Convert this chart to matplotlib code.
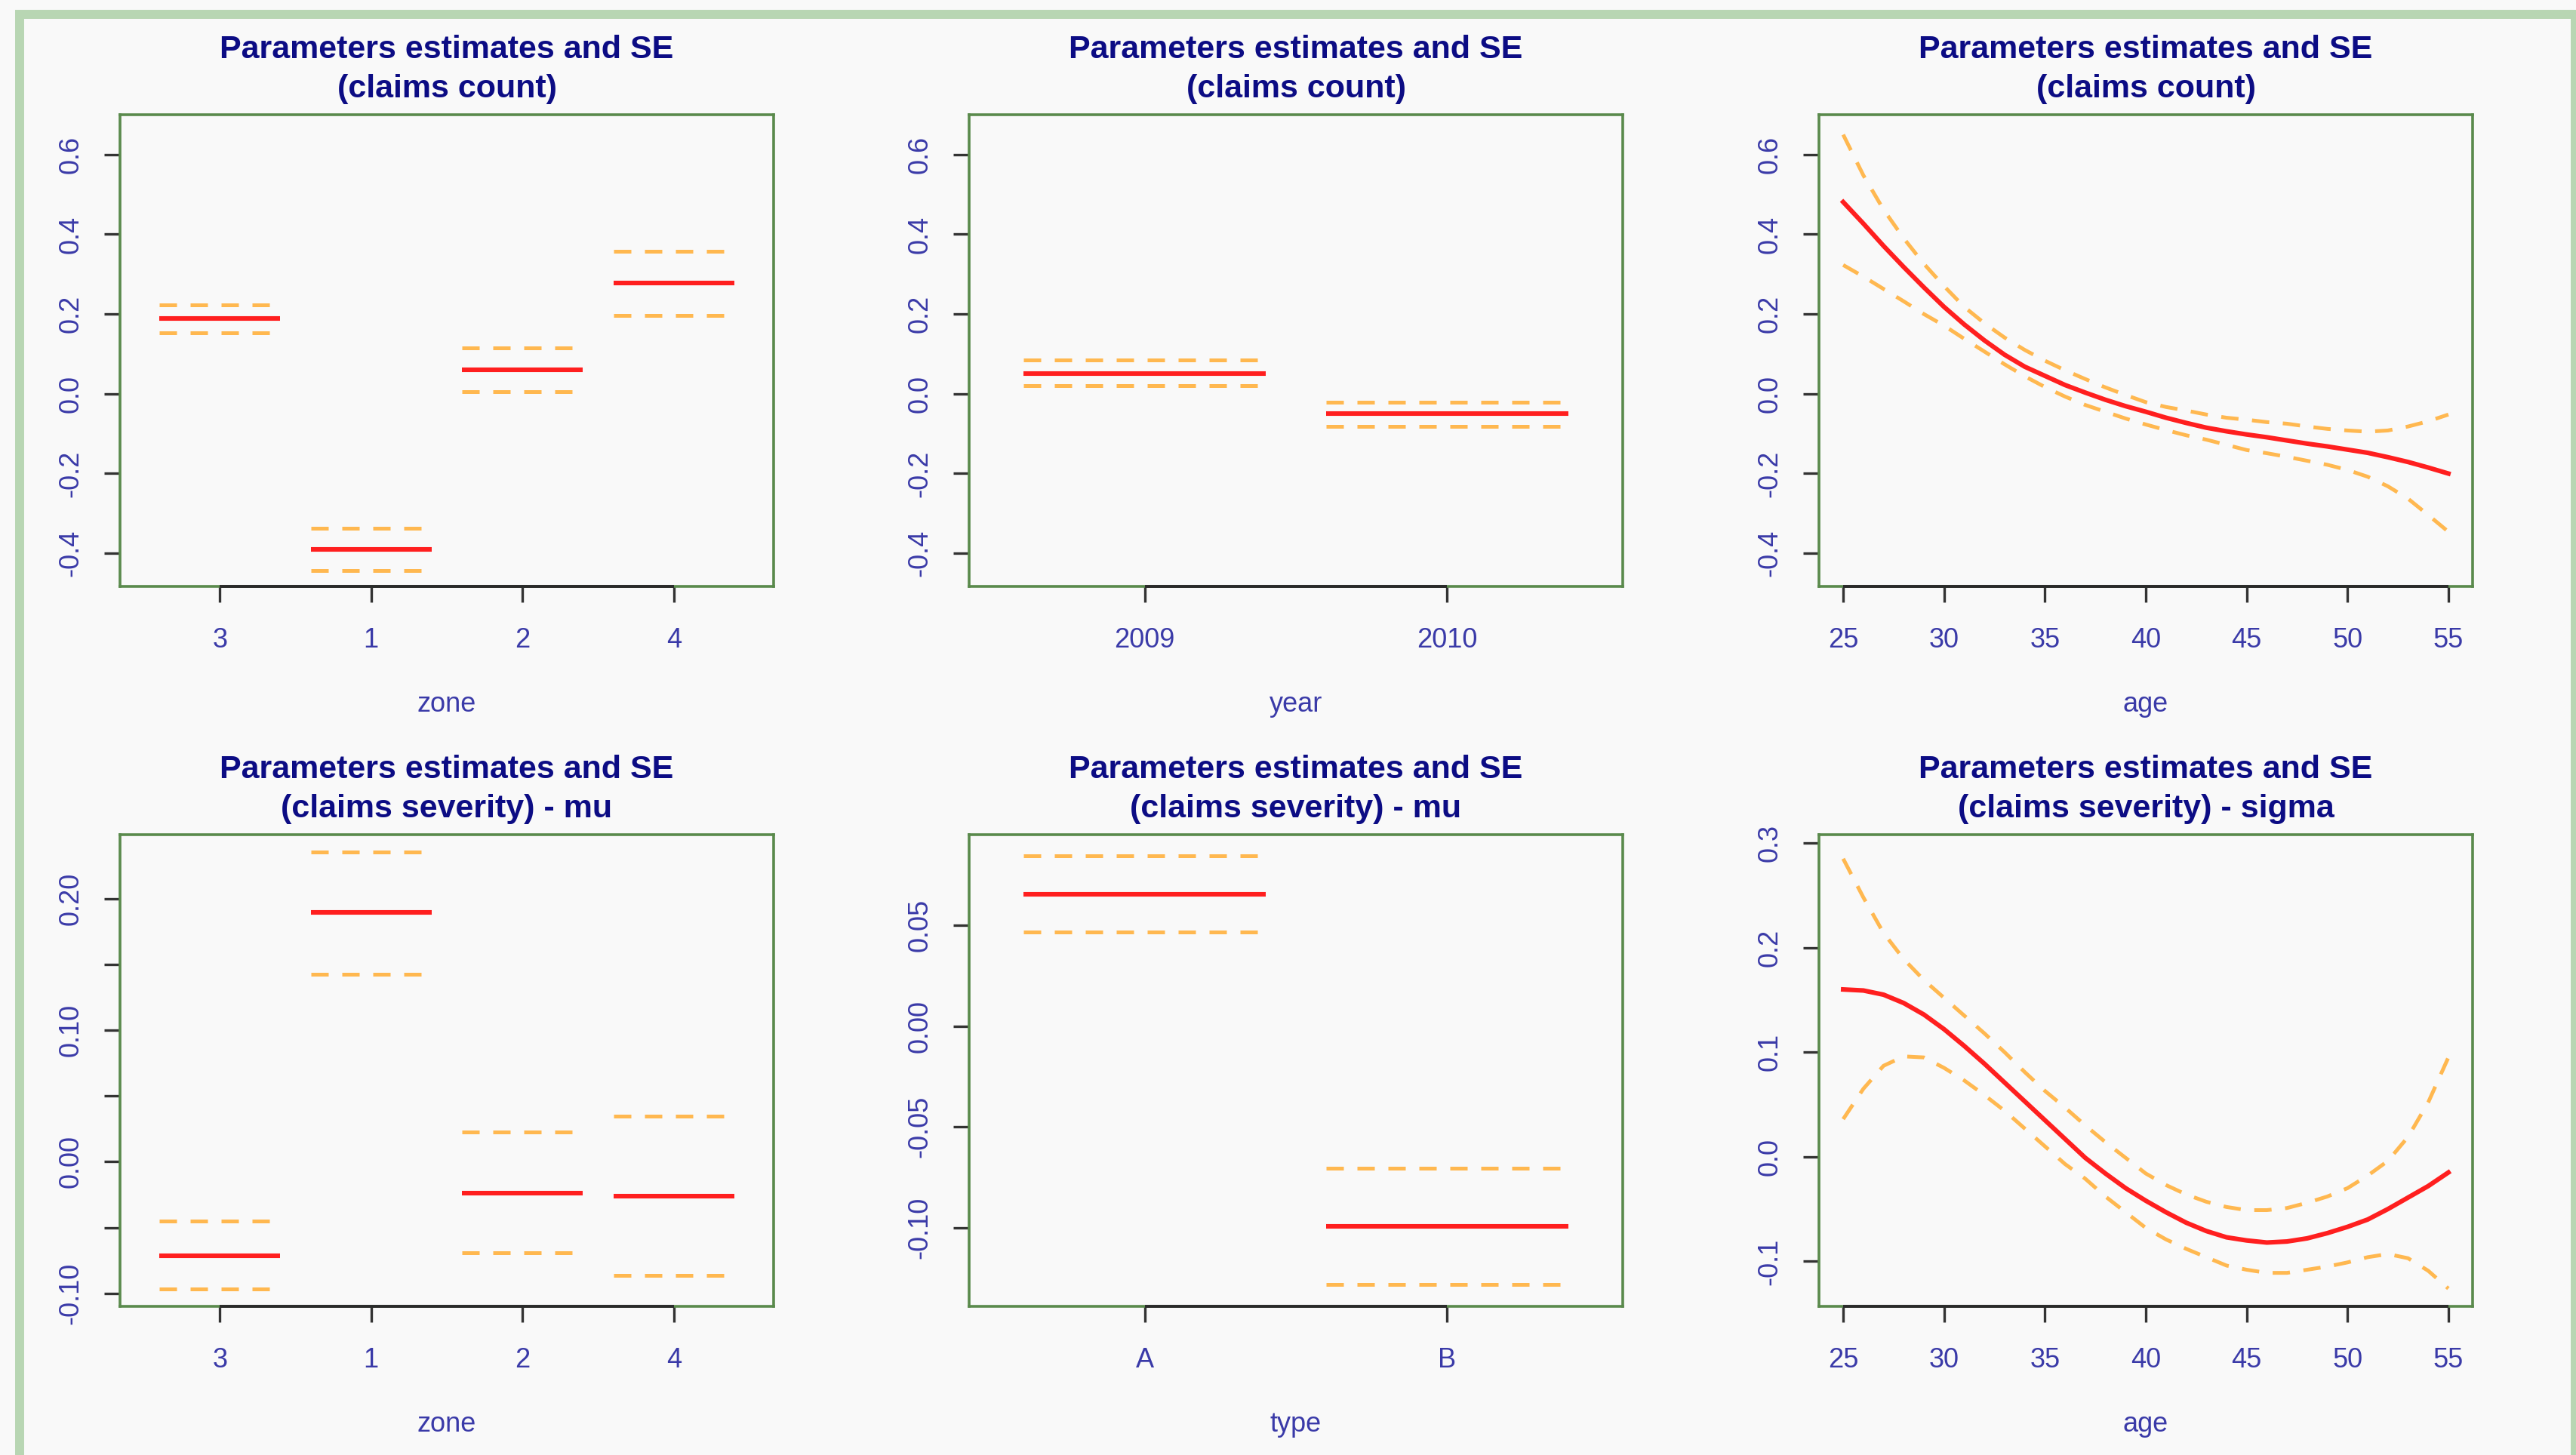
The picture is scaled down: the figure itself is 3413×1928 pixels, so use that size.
import matplotlib
matplotlib.use("Agg")
import matplotlib.pyplot as plt
from matplotlib.patches import Rectangle

# ---------------- data ----------------
zone_cats = ["3", "1", "2", "4"]
zone_count_est = [0.188, -0.390, 0.060, 0.277]
zone_count_up = [0.223, -0.338, 0.116, 0.358]
zone_count_lo = [0.153, -0.443, 0.005, 0.196]

year_cats = ["2009", "2010"]
year_count_est = [0.050, -0.050]
year_count_up = [0.084, -0.021]
year_count_lo = [0.020, -0.081]

ages = [25, 26, 27, 28, 29, 30, 31, 32, 33, 34, 35, 36, 37, 38, 39, 40,
        41, 42, 43, 44, 45, 46, 47, 48, 49, 50, 51, 52, 53, 54, 55]
age_count_est = [0.481, 0.427, 0.371, 0.318, 0.267, 0.218, 0.174, 0.134, 0.098, 0.068,
                 0.045, 0.022, 0.003, -0.015, -0.031, -0.045, -0.060, -0.073, -0.085, -0.094,
                 -0.102, -0.109, -0.117, -0.125, -0.132, -0.140, -0.148, -0.159, -0.171, -0.185,
                 -0.200]
age_count_up = [0.650, 0.548, 0.462, 0.390, 0.326, 0.270, 0.218, 0.177, 0.141, 0.110,
                0.083, 0.059, 0.037, 0.016, -0.003, -0.021, -0.033, -0.042, -0.052, -0.060,
                -0.065, -0.071, -0.075, -0.082, -0.088, -0.092, -0.095, -0.092, -0.082, -0.069,
                -0.052]
age_count_lo = [0.323, 0.294, 0.263, 0.232, 0.200, 0.171, 0.138, 0.106, 0.074, 0.044,
                0.017, -0.007, -0.028, -0.045, -0.062, -0.077, -0.091, -0.104, -0.115, -0.128,
                -0.141, -0.149, -0.158, -0.168, -0.178, -0.191, -0.208, -0.232, -0.263, -0.304,
                -0.346]

zone_sev_est = [-0.0715, 0.190, -0.024, -0.0264]
zone_sev_up = [-0.045, 0.236, 0.0226, 0.035]
zone_sev_lo = [-0.0966, 0.143, -0.069, -0.0866]

type_cats = ["A", "B"]
type_sev_est = [0.0656, -0.0993]
type_sev_up = [0.0847, -0.0706]
type_sev_lo = [0.0467, -0.1280]

age_sig_est = [0.160, 0.159, 0.155, 0.147, 0.136, 0.122, 0.106, 0.089, 0.071, 0.053,
               0.035, 0.017, -0.001, -0.016, -0.030, -0.042, -0.053, -0.063, -0.071, -0.077,
               -0.080, -0.082, -0.081, -0.078, -0.073, -0.067, -0.060, -0.050, -0.039, -0.028,
               -0.015]
age_sig_up = [0.285, 0.248, 0.214, 0.189, 0.169, 0.152, 0.135, 0.118, 0.100, 0.081,
              0.063, 0.047, 0.030, 0.014, -0.001, -0.016, -0.027, -0.036, -0.043, -0.048,
              -0.051, -0.051, -0.049, -0.044, -0.038, -0.030, -0.018, -0.004, 0.019, 0.052,
              0.095]
age_sig_lo = [0.036, 0.065, 0.087, 0.096, 0.095, 0.085, 0.073, 0.059, 0.044, 0.027,
              0.010, -0.007, -0.021, -0.038, -0.053, -0.068, -0.079, -0.088, -0.096, -0.104,
              -0.108, -0.111, -0.111, -0.108, -0.105, -0.101, -0.096, -0.093, -0.097, -0.109,
              -0.126]

age_ticks = [25, 30, 35, 40, 45, 50, 55]
age_ticklabels = ["25", "30", "35", "40", "45", "50", "55"]

count_yticks = [-0.4, -0.2, 0.0, 0.2, 0.4, 0.6]
count_yticklabels = ["-0.4", "-0.2", "0.0", "0.2", "0.4", "0.6"]
zone_sev_yticks = [-0.10, -0.05, 0.00, 0.05, 0.10, 0.15, 0.20]
zone_sev_yticklabels = ["-0.10", "", "0.00", "", "0.10", "", "0.20"]
type_sev_yticks = [-0.10, -0.05, 0.00, 0.05]
type_sev_yticklabels = ["-0.10", "-0.05", "0.00", "0.05"]
sig_yticks = [-0.1, 0.0, 0.1, 0.2, 0.3]
sig_yticklabels = ["-0.1", "0.0", "0.1", "0.2", "0.3"]

title_count = "Parameters estimates and SE\n(claims count)"
title_mu = "Parameters estimates and SE\n(claims severity) - mu"
title_sigma = "Parameters estimates and SE\n(claims severity) - sigma"

# ---------------- style ----------------
W, H = 3413, 1928
BG = "#f9f9f9"
RED = "#ff1f1f"
ORANGE = "#ffb850"
SPINE = "#5a8a4c"
TICKC = "#3a3aa8"
TITLEC = "#0c0c84"
FONT = "Liberation Sans"
DASH = (0, (4.6, 3.6))
TS = 26

plt.rcParams["font.family"] = [FONT, "DejaVu Sans"]

fig = plt.figure(figsize=(W / 100, H / 100), dpi=100, facecolor=BG)

col_left = [159, 1284, 2410]
col_w = 866
row_top = [152, 1106]
row_h = 625


def make_ax(r, c):
    l = col_left[c] / W
    b = 1 - (row_top[r] + row_h) / H
    ax = fig.add_axes([l, b, col_w / W, row_h / H])
    ax.set_facecolor(BG)
    for s in ax.spines.values():
        s.set_color(SPINE)
        s.set_linewidth(2.6)
    ax.tick_params(axis="both", direction="out", length=15, width=2.4,
                   color="#333333", labelcolor=TICKC, labelsize=TS)
    ax.tick_params(axis="x", pad=24)
    ax.tick_params(axis="y", pad=19)
    return ax


def finish(ax, title, xlabel, xticks, xticklabels, yticks, yticklabels, xlim, ylim):
    ax.set_xlim(*xlim)
    ax.set_ylim(*ylim)
    ax.set_xticks(xticks)
    ax.set_xticklabels(xticklabels, fontsize=TS, color=TICKC)
    ax.set_yticks(yticks)
    ax.set_yticklabels(yticklabels, rotation=90, va="center", fontsize=TS, color=TICKC)
    ax.set_xlabel(xlabel, fontsize=TS, color=TICKC)
    ax.xaxis.set_label_coords(0.5, -0.222)
    ax.xaxis.label.set_va("top")
    ax.text(0.5, 1 + 60 / row_h, title, transform=ax.transAxes, ha="center", va="center",
            fontsize=31, fontweight="bold", color=TITLEC, linespacing=1.38)
    # black axis line from first to last tick (R style)
    ax.plot([xticks[0], xticks[-1]], [0, 0], transform=ax.get_xaxis_transform(),
            color="#2a2a2a", lw=2.8, clip_on=False, zorder=5, solid_capstyle="butt")


def cat_panel(ax, n, est, up, lo):
    pos = list(range(1, n + 1))
    ax.hlines(up, [p - 0.4 for p in pos], [p + 0.4 for p in pos], colors=ORANGE,
              linestyles=DASH, linewidth=3.6)
    ax.hlines(lo, [p - 0.4 for p in pos], [p + 0.4 for p in pos], colors=ORANGE,
              linestyles=DASH, linewidth=3.6)
    ax.hlines(est, [p - 0.4 for p in pos], [p + 0.4 for p in pos], colors=RED,
              linewidth=4.4)
    return pos


def curve_panel(ax, x, est, up, lo):
    ax.plot(x, up, color=ORANGE, lw=3.6, linestyle=DASH)
    ax.plot(x, lo, color=ORANGE, lw=3.6, linestyle=DASH)
    ax.plot(x, est, color=RED, lw=4.4, solid_joinstyle="round")


# top-left: zone, claims count
ax = make_ax(0, 0)
pos = cat_panel(ax, len(zone_cats), zone_count_est, zone_count_up, zone_count_lo)
finish(ax, title_count, "zone", pos, zone_cats, count_yticks, count_yticklabels,
       (0.34, 4.66), (-0.483, 0.700))

# top-middle: year
ax = make_ax(0, 1)
pos = cat_panel(ax, len(year_cats), year_count_est, year_count_up, year_count_lo)
finish(ax, title_count, "year", pos, year_cats, count_yticks, count_yticklabels,
       (0.42, 2.58), (-0.483, 0.700))

# top-right: age
ax = make_ax(0, 2)
curve_panel(ax, ages, age_count_est, age_count_up, age_count_lo)
finish(ax, title_count, "age", age_ticks, age_ticklabels, count_yticks, count_yticklabels,
       (23.8, 56.2), (-0.483, 0.700))

# bottom-left: zone, severity mu
ax = make_ax(1, 0)
pos = cat_panel(ax, len(zone_cats), zone_sev_est, zone_sev_up, zone_sev_lo)
finish(ax, title_mu, "zone", pos, zone_cats, zone_sev_yticks, zone_sev_yticklabels,
       (0.34, 4.66), (-0.110, 0.249))

# bottom-middle: type
ax = make_ax(1, 1)
pos = cat_panel(ax, len(type_cats), type_sev_est, type_sev_up, type_sev_lo)
finish(ax, title_mu, "type", pos, type_cats, type_sev_yticks, type_sev_yticklabels,
       (0.42, 2.58), (-0.139, 0.095))

# bottom-right: age sigma
ax = make_ax(1, 2)
curve_panel(ax, ages, age_sig_est, age_sig_up, age_sig_lo)
finish(ax, title_sigma, "age", age_ticks, age_ticklabels, sig_yticks, sig_yticklabels,
       (23.8, 56.2), (-0.143, 0.308))

# light green outer frame
frame = Rectangle((26 / W, 1 - 1934 / H), (3412 - 26) / W, (1934 - 19) / H,
                  transform=fig.transFigure, fill=False, edgecolor="#b8d6b3",
                  linewidth=8.6, zorder=0)
fig.patches.append(frame)

fig.savefig("out.png", dpi=100, facecolor=BG)
